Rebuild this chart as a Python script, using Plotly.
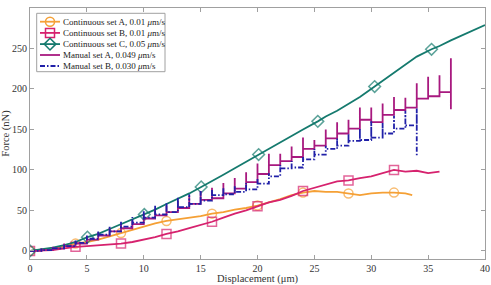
import plotly.graph_objects as go

# ---------------- data ----------------
# Continuous set A (0.01 um/s)
contA_x = [0, 1, 2, 3, 4, 5, 6, 7, 8, 9, 10, 11, 12, 13, 14, 15, 16, 17, 18, 19, 20, 21, 22, 23, 24, 25, 26, 27, 28, 29, 30, 31, 32, 33, 33.6]
contA_y = [0, 1.5, 3, 6, 9, 11, 14, 18, 22, 26, 30, 34, 37, 39, 41, 43, 46, 48, 51, 53, 56, 60, 64, 69, 72, 74, 73, 73, 71, 69, 71, 72, 72, 71, 69]
contA_mx = [0, 4, 8, 12, 16, 20, 24, 28, 32]

# Continuous set B (0.01 um/s)
contB_x = [0, 1, 2, 3, 4, 5, 6, 7, 8, 9, 10, 11, 12, 13, 14, 15, 16, 17, 18, 19, 20, 21, 22, 23, 24, 25, 26, 27, 28, 29, 30, 31, 32, 33, 34, 35, 36]
contB_y = [0, 0.5, 1, 3, 5, 6, 7, 8, 9, 11, 14, 17, 21, 24, 28, 32, 36, 41, 46, 50, 55, 60, 63, 68, 74, 78, 82, 86, 87, 90, 92, 96, 100, 98, 99, 96, 98]
contB_mx = [0, 4, 8, 12, 16, 20, 24, 28, 32]

# Continuous set C (0.05 um/s)
contC_x = [0, 1, 2, 3, 4, 5.05, 6, 7, 8, 9, 10.05, 11, 12, 13, 14, 15.05, 16, 17, 18, 19, 20.1, 21, 22, 23, 24, 25.3, 26, 27, 28, 29, 30.3, 31, 32, 33, 33.5, 34, 35.3, 36, 37, 38, 39, 40]
contC_y = [0, 2, 4, 7, 11, 17, 21, 27, 33, 39, 45, 51, 58, 64, 71, 79, 86, 94, 102, 110, 119, 127, 134, 142, 150, 160, 166, 173, 181, 190, 203, 210, 220, 231, 236, 240, 249, 253, 260, 266, 272, 279]
contC_mx = [0, 5.05, 10.05, 15.05, 20.1, 25.3, 30.3, 35.3]

# Manual set A (0.049 um/s): step positions, plateau levels (last = final value), peak at each step
manA_x = list(range(0, 38))
manA_level = [0, 1, 3, 6, 9, 14, 19, 24, 28, 33, 40, 44, 48, 53, 58, 63, 65, 71, 77, 85, 95, 106, 111, 116, 126, 130, 139, 145, 151, 162, 159, 168, 174, 177, 188, 191, 196, 175]
manA_peak = [0, 3, 5, 9, 12, 18, 23, 28, 33, 38, 46, 52, 56, 62, 68, 74, 78, 84, 90, 97, 108, 120, 120, 129, 140, 137, 150, 159, 162, 177, 177, 182, 190, 189, 207, 215, 217, 238]

# Manual set B (0.030 um/s)
manB_x = list(range(0, 35))
manB_level = [0, 1, 3, 6, 10, 15, 20, 24, 30, 35, 41, 45, 48, 54, 58, 62, 69, 70, 73, 76, 83, 92, 102, 103, 113, 119, 126, 130, 136, 137, 140, 145, 151, 155, 118]
manB_peak = [0, 3, 5, 9, 13, 19, 25, 30, 36, 42, 50, 56, 60, 66, 70, 74, 76, 78, 80, 84, 90, 96, 106, 111, 116, 126, 130, 139, 145, 151, 160, 158, 167, 173, 176]

x_ticks = [0, 5, 10, 15, 20, 25, 30, 35, 40]
y_ticks = [0, 50, 100, 150, 200, 250]

names = ["Continuous set A, 0.01 <i>μ</i>m/s",
         "Continuous set B, 0.01 <i>μ</i>m/s",
         "Continuous set C, 0.05 <i>μ</i>m/s",
         "Manual set A, 0.049 <i>μ</i>m/s",
         "Manual set B, 0.030 <i>μ</i>m/s"]

# ---------------- style ----------------
C_A = "#F5A035"
C_B = "#D6226E"
C_C = "#157A6E"
M_A = "#A8197F"
M_B = "#2020A8"
FONT = "Liberation Serif"
DASH_B = "5px,2px,1.5px,2px"
PLOT_W, PLOT_H = 455, 251   # plot area in px (for the legend overlay)


def step_path(xs, level, peak):
    px, py = [xs[0]], [level[0]]
    for i in range(1, len(xs)):
        px += [xs[i], xs[i], xs[i]]
        py += [level[i - 1], peak[i], level[i]]
    return px, py


fig = go.Figure()

cont = [
    (contA_x, contA_y, contA_mx, C_A, "circle-open", names[0]),
    (contB_x, contB_y, contB_mx, C_B, "square-open", names[1]),
    (contC_x, contC_y, contC_mx, C_C, "diamond-open", names[2]),
]
for xs, ys, mx, col, sym, nm in cont:
    sizes = [9 if x in mx else 0 for x in xs]
    fig.add_trace(go.Scatter(x=xs, y=ys, mode="lines+markers", showlegend=False, name=nm,
                             line=dict(color=col, width=1.8),
                             marker=dict(symbol=sym, size=sizes, color=col,
                                         line=dict(width=1.5, color=col))))

ax, ay = step_path(manA_x, manA_level, manA_peak)
fig.add_trace(go.Scatter(x=ax, y=ay, mode="lines", name=names[3], showlegend=False,
                         line=dict(color=M_A, width=1.8)))
bx, by = step_path(manB_x, manB_level, manB_peak)
fig.add_trace(go.Scatter(x=bx, y=by, mode="lines", name=names[4], showlegend=False,
                         line=dict(color=M_B, width=1.8, dash=DASH_B)))

# ---------------- compact legend (overlay axes in plot-area pixels) ----------------
leg_box_x = [6.7, 135, 135, 6.7, 6.7]
leg_box_y = [5.3, 5.3, 63.7, 63.7, 5.3]
leg_rows = [13.7, 24.9, 36.1, 47.0, 58.0]
leg_styles = [
    dict(color=C_A, sym="circle-open", dash="solid"),
    dict(color=C_B, sym="square-open", dash="solid"),
    dict(color=C_C, sym="diamond-open", dash="solid"),
    dict(color=M_A, sym=None, dash="solid"),
    dict(color=M_B, sym=None, dash=DASH_B),
]
fig.add_trace(go.Scatter(x=leg_box_x, y=leg_box_y, xaxis="x2", yaxis="y2", mode="lines",
                         fill="toself", fillcolor="white", showlegend=False, hoverinfo="skip",
                         line=dict(color="#a0a0a0", width=1)))
for yy, st, nm in zip(leg_rows, leg_styles, names):
    fig.add_trace(go.Scatter(x=[10, 30], y=[yy, yy], xaxis="x2", yaxis="y2", mode="lines",
                             showlegend=False, hoverinfo="skip",
                             line=dict(color=st["color"], width=1.8, dash=st["dash"])))
    if st["sym"]:
        fig.add_trace(go.Scatter(x=[20], y=[yy], xaxis="x2", yaxis="y2", mode="markers",
                                 showlegend=False, hoverinfo="skip",
                                 marker=dict(symbol=st["sym"], size=9, color=st["color"],
                                             line=dict(width=1.5, color=st["color"]))))
    fig.add_annotation(x=30.5, y=yy, xref="x2", yref="y2", text=nm, showarrow=False,
                       xanchor="left", yanchor="middle",
                       font=dict(family=FONT, size=9, color="#222"))

axis_common = dict(showgrid=False, zeroline=False, showline=True, linecolor="#a0a0a0",
                   linewidth=1, mirror="ticks", ticks="inside", ticklen=4, automargin=False,
                   tickcolor="#a0a0a0", tickfont=dict(family=FONT, size=10, color="#333"))

fig.update_layout(
    width=491, height=285,
    margin=dict(l=30, r=6, t=8, b=26),
    paper_bgcolor="white", plot_bgcolor="white",
    font=dict(family=FONT, size=10, color="#333"),
    showlegend=False,
    xaxis=dict(range=[0, 40], tickvals=x_ticks,
               title=dict(text="Displacement (μm)", font=dict(family=FONT, size=10.5, color="#333"), standoff=1),
               **axis_common),
    yaxis=dict(range=[-10, 300], tickvals=y_ticks,
               title=dict(text="Force (nN)", font=dict(family=FONT, size=10.5, color="#333"), standoff=2),
               **axis_common),
    xaxis2=dict(overlaying="x", range=[0, PLOT_W], visible=False, fixedrange=True),
    yaxis2=dict(overlaying="y", range=[PLOT_H, 0], visible=False, fixedrange=True),
)

fig.write_html("out.html")
